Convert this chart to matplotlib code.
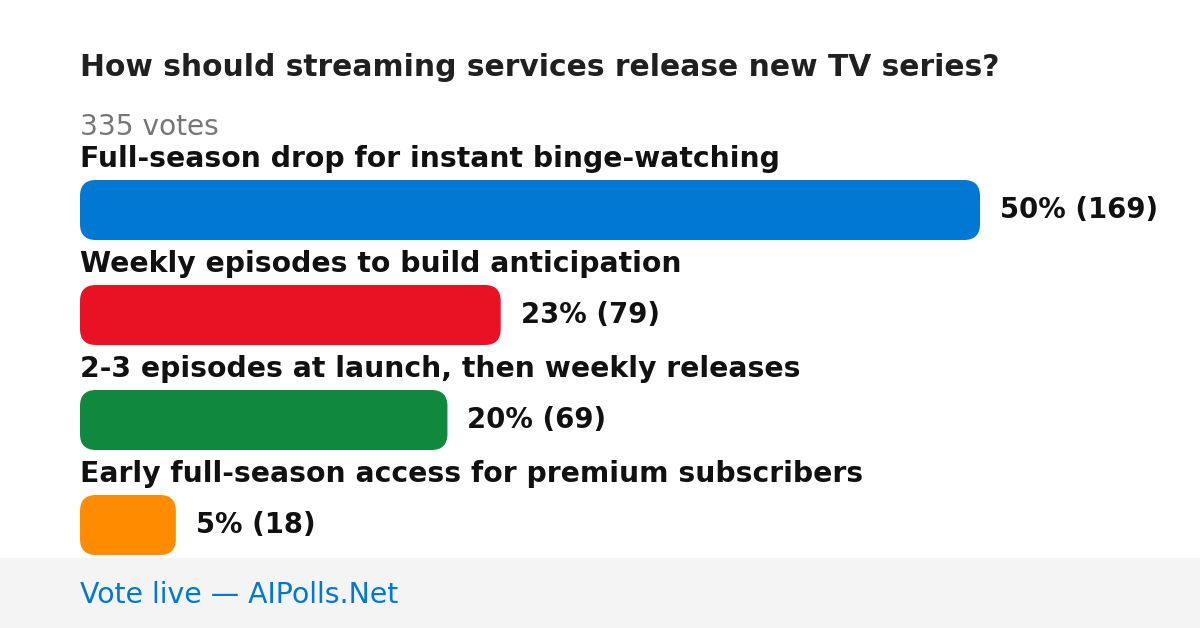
import matplotlib
matplotlib.use("Agg")
import matplotlib.pyplot as plt
from matplotlib.patches import FancyBboxPatch, Rectangle

plt.rcParams["font.family"] = ["DejaVu Sans"]

title = "How should streaming services release new TV series?"
total_votes = 335
options = [
    "Full-season drop for instant binge-watching",
    "Weekly episodes to build anticipation",
    "2-3 episodes at launch, then weekly releases",
    "Early full-season access for premium subscribers",
]
votes = [169, 79, 69, 18]
percents = [50, 23, 20, 5]
colors = ["#0078d4", "#e81224", "#10893e", "#ff8c00"]

W, H = 1200, 628
fig = plt.figure(figsize=(W / 100, H / 100), dpi=100)

# background / text axes in pixel coordinates
bg = fig.add_axes([0, 0, 1, 1])
bg.set_xlim(0, W)
bg.set_ylim(H, 0)
bg.axis("off")

bg.add_patch(Rectangle((0, 558), W, 70, facecolor="#f4f4f4", edgecolor="none"))
bg.text(80, 68, title, fontsize=21.4, fontweight="bold", color="#202020", va="center")
bg.text(80, 127, f"{total_votes} votes", fontsize=20.2, color="#767676", va="center")
bg.text(80, 595, "Vote live \u2014 AIPolls.Net", fontsize=20.4, color="#0078d4", va="center")

# bar axes: x in vote counts, largest bar spans 80px..980px; y in pixels
bar_px = 900
scale = bar_px / max(votes)
ax = fig.add_axes([0, 0, 1, 1], zorder=2)
ax.set_xlim(-80 / scale, (W - 80) / scale)
ax.set_ylim(H, 0)
ax.axis("off")
ax.patch.set_alpha(0)

radius = 16
for i, (lab, v, p, c) in enumerate(zip(options, votes, percents, colors)):
    top = 180 + i * 105
    ax.text(0, top - 21, lab, fontsize=20.3, fontweight="bold", color="#111111", va="center")
    box = FancyBboxPatch((0, top), v, 60,
                         boxstyle=f"round,pad=0,rounding_size={radius / scale}",
                         mutation_aspect=scale, facecolor=c, edgecolor="none")
    ax.add_patch(box)
    ax.text(v + 20 / scale, top + 30, f"{p}% ({v})", fontsize=19.8, fontweight="bold",
            color="#111111", va="center")

fig.savefig("out.png", dpi=100)
